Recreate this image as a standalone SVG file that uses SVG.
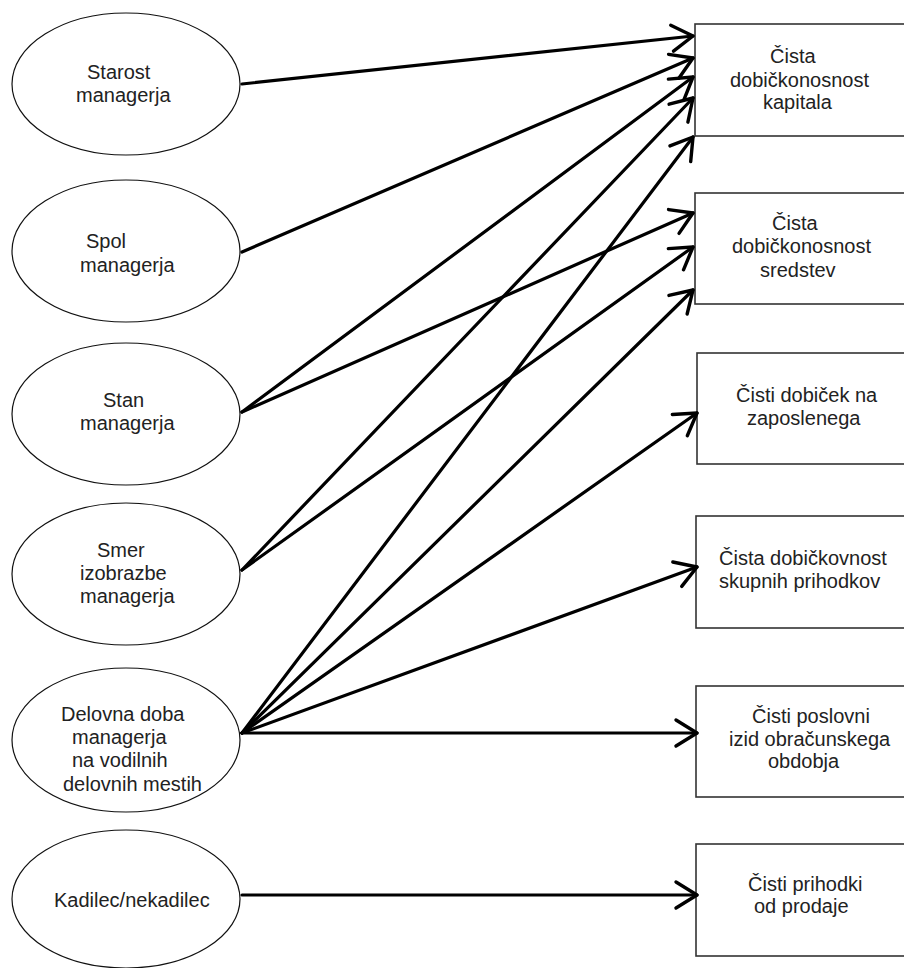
<svg xmlns="http://www.w3.org/2000/svg" width="904" height="968" viewBox="0 0 904 968">
  <defs>
    <style>
      .factor ellipse { fill: #fff; stroke: #111; stroke-width: 1.2; }
      .outcome rect { fill: #fff; stroke: #333; stroke-width: 1.6; }
      text { font-family: "Liberation Sans", Arial, sans-serif; font-size: 20px; fill: #222; }
      .links line { stroke: #000; stroke-width: 3.2; stroke-linecap: round; }
    </style>
    <marker id="open-arrow" markerUnits="userSpaceOnUse" orient="auto" refX="0" refY="0" markerWidth="30" markerHeight="30" viewBox="-26 -15 30 30" overflow="visible">
      <path d="M -21 -13 L 0 0 L -21 13" fill="none" stroke="#000" stroke-width="3.4" stroke-linecap="round" stroke-linejoin="round"/>
    </marker>
  </defs>

  <rect x="0" y="0" width="904" height="968" fill="#fff"/>

  <!-- influencing factors (left column) -->
  <g id="starost" class="factor">
    <ellipse cx="126" cy="84" rx="114" ry="71"/>
    <text x="87" y="79">Starost</text>
    <text x="76" y="102">managerja</text>
  </g>
  <g id="spol" class="factor">
    <ellipse cx="126" cy="251" rx="114" ry="71"/>
    <text x="86" y="248">Spol</text>
    <text x="80" y="272">managerja</text>
  </g>
  <g id="stan" class="factor">
    <ellipse cx="126" cy="414" rx="114" ry="71"/>
    <text x="103" y="407">Stan</text>
    <text x="80" y="430">managerja</text>
  </g>
  <g id="smer" class="factor">
    <ellipse cx="126" cy="574" rx="114" ry="71"/>
    <text x="97" y="557">Smer</text>
    <text x="80" y="580">izobrazbe</text>
    <text x="80" y="603">managerja</text>
  </g>
  <g id="delovna-doba" class="factor">
    <ellipse cx="126" cy="740" rx="114" ry="72"/>
    <text x="61" y="721">Delovna doba</text>
    <text x="72" y="744">managerja</text>
    <text x="72" y="767">na vodilnih</text>
    <text x="63" y="791">delovnih mestih</text>
  </g>
  <g id="kadilec" class="factor">
    <ellipse cx="126" cy="899" rx="114" ry="69"/>
    <text x="54" y="907">Kadilec/nekadilec</text>
  </g>

  <!-- performance measures (right column) -->
  <g id="dobickonosnost-kapitala" class="outcome">
    <rect x="695" y="24" width="230" height="112"/>
    <text x="770" y="63">Čista</text>
    <text x="730" y="87">dobičkonosnost</text>
    <text x="763" y="109">kapitala</text>
  </g>
  <g id="dobickonosnost-sredstev" class="outcome">
    <rect x="695" y="193" width="230" height="111"/>
    <text x="772" y="230">Čista</text>
    <text x="732" y="253">dobičkonosnost</text>
    <text x="760" y="277">sredstev</text>
  </g>
  <g id="dobicek-na-zaposlenega" class="outcome">
    <rect x="697" y="353" width="230" height="111"/>
    <text x="736" y="402">Čisti dobiček na</text>
    <text x="747" y="425">zaposlenega</text>
  </g>
  <g id="dobickovnost-prihodkov" class="outcome">
    <rect x="696" y="516" width="230" height="112"/>
    <text x="719" y="565">Čista dobičkovnost</text>
    <text x="719" y="588">skupnih prihodkov</text>
  </g>
  <g id="poslovni-izid" class="outcome">
    <rect x="696" y="686" width="230" height="111"/>
    <text x="752" y="723">Čisti poslovni</text>
    <text x="729" y="746">izid obračunskega</text>
    <text x="768" y="768">obdobja</text>
  </g>
  <g id="prihodki-od-prodaje" class="outcome">
    <rect x="696" y="844" width="230" height="112"/>
    <text x="748" y="891">Čisti prihodki</text>
    <text x="754" y="913">od prodaje</text>
  </g>

  <!-- connectors -->
  <g id="connectors" class="links" marker-end="url(#open-arrow)">
    <line x1="242" y1="84" x2="693" y2="36" marker-end="url(#open-arrow)"/>
    <line x1="242" y1="252" x2="693" y2="58" marker-end="url(#open-arrow)"/>
    <line x1="242" y1="412" x2="693" y2="77" marker-end="url(#open-arrow)"/>
    <line x1="242" y1="412" x2="693" y2="213" marker-end="url(#open-arrow)"/>
    <line x1="242" y1="570" x2="693" y2="98" marker-end="url(#open-arrow)"/>
    <line x1="242" y1="570" x2="693" y2="247" marker-end="url(#open-arrow)"/>
    <line x1="242" y1="733" x2="693" y2="137" marker-end="url(#open-arrow)"/>
    <line x1="242" y1="733" x2="693" y2="290" marker-end="url(#open-arrow)"/>
    <line x1="242" y1="733" x2="697" y2="413" marker-end="url(#open-arrow)"/>
    <line x1="242" y1="733" x2="697" y2="567" marker-end="url(#open-arrow)"/>
    <line x1="242" y1="733" x2="697" y2="733" marker-end="url(#open-arrow)"/>
    <line x1="242" y1="895" x2="697" y2="895" marker-end="url(#open-arrow)"/>
  </g>
</svg>
